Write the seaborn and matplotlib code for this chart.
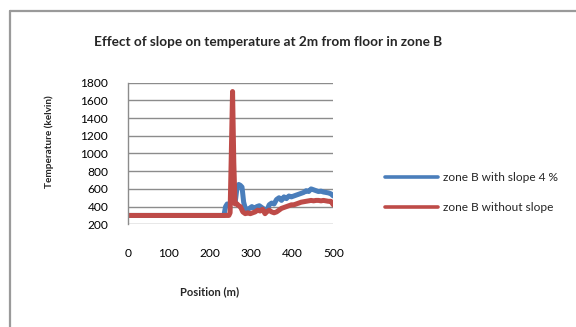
import matplotlib
matplotlib.use("Agg")
import matplotlib.pyplot as plt
import seaborn as sns
import pandas as pd
from matplotlib.lines import Line2D

# ---- data ----
pos_slope = [0, 50, 100, 150, 200, 234, 238, 242, 246, 250, 254, 258, 262, 266,
             270, 274, 278, 282, 286, 290, 296, 302, 308, 314, 320, 326, 332, 338,
             344, 350, 356, 362, 368, 374, 380, 386, 392, 398, 404, 410, 416, 422,
             428, 434, 440, 446, 452, 458, 464, 470, 476, 482, 488, 494, 500]
temp_slope = [300, 300, 300, 300, 300, 300, 400, 430, 420, 440, 480, 450, 470, 620,
              650, 640, 620, 450, 380, 360, 380, 400, 380, 400, 410, 390, 370, 350,
              420, 440, 430, 480, 500, 470, 510, 490, 520, 510, 520, 530, 540, 550,
              560, 580, 570, 600, 590, 580, 570, 575, 565, 560, 555, 545, 520]

pos_flat = [0, 50, 100, 150, 200, 240, 246, 249, 252, 255, 258, 261, 266, 270, 274,
            280, 286, 292, 298, 304, 310, 316, 322, 328, 334, 338, 344, 350, 356,
            362, 368, 374, 380, 386, 392, 398, 404, 410, 416, 422, 428, 434, 440,
            446, 452, 458, 464, 470, 476, 482, 488, 494, 500]
temp_flat = [300, 300, 300, 300, 300, 300, 300, 330, 1000, 1700, 900, 430, 430, 410,
             400, 340, 320, 330, 320, 330, 340, 360, 350, 370, 320, 340, 360, 340,
             330, 340, 360, 380, 390, 400, 410, 420, 420, 430, 440, 450, 455, 460,
             465, 470, 465, 470, 470, 465, 470, 465, 460, 460, 420]

label_slope = "zone B with slope 4 %"
label_flat = "zone B without slope"
y_ticks = [200, 400, 600, 800, 1000, 1200, 1400, 1600, 1800]
x_ticks = [0, 100, 200, 300, 400, 500]

df = pd.concat([
    pd.DataFrame({"pos": pos_slope, "temp": temp_slope, "series": label_slope}),
    pd.DataFrame({"pos": pos_flat, "temp": temp_flat, "series": label_flat}),
], ignore_index=True)

sns.set_theme(style="white")
plt.rcParams["font.family"] = ["Lato", "DejaVu Sans"]

W, H = 576, 327
fig = plt.figure(figsize=(W / 100, H / 100), dpi=100)
fig.patch.set_facecolor("white")

ax = fig.add_axes([127.7 / W, 1 - 224.3 / H, (333.3 - 127.7) / W, (224.3 - 82.7) / H])
palette = {label_slope: "#4A7EBB", label_flat: "#BE4B48"}
sns.lineplot(data=df, x="pos", y="temp", hue="series", palette=palette,
             linewidth=3.6, ax=ax, legend=False, sort=False, estimator=None)

ax.set_xlim(0, 500)
ax.set_ylim(200, 1800)
ax.set_yticks(y_ticks)
ax.set_xticks(x_ticks)
ax.set_xticklabels([str(v) for v in x_ticks])
ax.set_yticklabels([str(v) for v in y_ticks])
ax.grid(axis="y", color="#8C8C8C", linewidth=1.0)
ax.set_axisbelow(True)
for s in ["top", "right", "bottom"]:
    ax.spines[s].set_visible(False)
ax.spines["left"].set_color("#8C8C8C")
ax.spines["left"].set_linewidth(1.0)
ax.tick_params(axis="y", length=3, color="#8C8C8C", pad=11, labelsize=8.6, labelcolor="black")
ax.tick_params(axis="x", length=0, pad=17, labelsize=8.6, labelcolor="black")
ax.set_xlabel("")
ax.set_ylabel("")

fig.text(268 / W, 1 - 42 / H, "Effect of slope on temperature at 2m from floor in zone B",
         ha="center", va="center", fontsize=9.8, fontweight="bold")
fig.text(49 / W, 1 - 141.5 / H, "Temperature (kelvin)", rotation=90,
         ha="center", va="center", fontsize=7.2, fontweight="bold")
fig.text(209.5 / W, 1 - 291.7 / H, "Position (m)",
         ha="center", va="center", fontsize=8, fontweight="bold")

handles = [Line2D([], [], color=palette[label_slope], linewidth=2.6),
           Line2D([], [], color=palette[label_flat], linewidth=2.6)]
fig.legend(handles, [label_slope, label_flat], loc="center left",
           bbox_to_anchor=(385 / W, 1 - 192.5 / H), frameon=False,
           fontsize=8.6, handlelength=4.4, handletextpad=0.42, labelspacing=1.6,
           borderpad=0, borderaxespad=0)

# outer chart border (top and left)
fig.add_artist(Line2D([10 / W, 1], [1 - 11 / H, 1 - 11 / H], color="#9A9A9A", linewidth=1.6))
fig.add_artist(Line2D([10 / W, 10 / W], [0, 1 - 11 / H], color="#9A9A9A", linewidth=1.6))

fig.savefig("out.png", dpi=100, facecolor="white")
